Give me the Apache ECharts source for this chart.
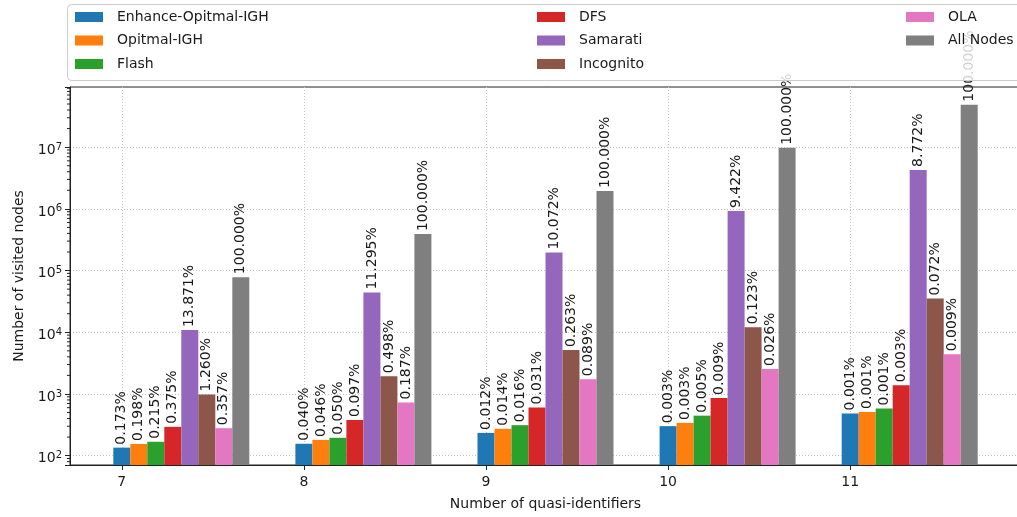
<!DOCTYPE html>
<html>
<head>
<meta charset="utf-8">
<script src="https://cdn.jsdelivr.net/npm/echarts@6/dist/echarts.min.js"></script>
<style>
  html, body { margin: 0; padding: 0; background: #fff; }
  #chart { width: 1017px; height: 517px; }
</style>
</head>
<body>
<div id="chart"></div>
<script>
// Number of quasi-identifiers on the x axis
const quasiIdentifiers = [7, 8, 9, 10, 11];

// Visited nodes per algorithm
const enhanceOptimalIGH = [135, 156, 234, 301, 483];
const optimalIGH        = [155, 180, 273, 340, 512];
const flash             = [168, 195, 312, 445, 580];
const dfs               = [293, 379, 605, 860, 1390];
const samarati          = [10837, 44121, 196718, 920125, 4283214];
const incognito         = [984, 1945, 5137, 12012, 35156];
const ola               = [279, 730, 1738, 2539, 4394];
const allNodes          = [78125, 390625, 1953125, 9765625, 48828125];

const seriesNames = ['Enhance-Opitmal-IGH', 'Opitmal-IGH', 'Flash', 'DFS',
                     'Samarati', 'Incognito', 'OLA', 'All Nodes'];
const seriesValues = [enhanceOptimalIGH, optimalIGH, flash, dfs,
                      samarati, incognito, ola, allNodes];
const colors = ['#1f77b4', '#ff7f0e', '#2ca02c', '#d62728',
                '#9467bd', '#8c564b', '#e377c2', '#7f7f7f'];

// Layout
const FONT = 'DejaVu Sans';
const TEXT = '#1a1a1a';
const GRID_LINE = { type: [1, 2], color: '#c4c4c4', width: 1 };
const X_MIN = 6.7155, X_MAX = 11.938;
const Y_MIN = 70.6, Y_MAX = 9.44e7;
const PLOT_LEFT = 70, PLOT_RIGHT = -4;
const BAR_PX = 17;
const UNIT_PX = (1017 - PLOT_LEFT - PLOT_RIGHT) / (X_MAX - X_MIN);
// each group starts at its tick, so the bar axis is shifted by half a group
const GROUP_SHIFT = (seriesNames.length / 2 - 0.5) * BAR_PX / UNIT_PX;

// minor ticks of the log axis (2..9 per decade)
const minorTicks = [];
for (let e = 1; e <= 7; e++) {
  for (let m = 2; m <= 9; m++) {
    const v = m * Math.pow(10, e);
    if (v > Y_MIN && v < Y_MAX) minorTicks.push([quasiIdentifiers[0], v]);
  }
}

const barSeries = seriesNames.map((name, i) => ({
  name: name,
  type: 'bar',
  xAxisIndex: 1,
  barWidth: BAR_PX,
  barGap: '0%',
  itemStyle: { color: colors[i] },
  data: quasiIdentifiers.map((q, j) => [q, seriesValues[i][j]]),
  label: {
    show: true,
    position: 'top',
    distance: 3,
    rotate: 90,
    align: 'left',
    verticalAlign: 'middle',
    fontFamily: FONT,
    fontSize: 14,
    color: TEXT,
    formatter: p => (p.value[1] / allNodes[p.dataIndex] * 100).toFixed(3) + '%'
  },
  z: 2
}));

const legendCommon = {
  orient: 'vertical',
  top: 10,
  padding: 0,
  itemWidth: 28,
  itemHeight: 10,
  itemGap: 9.5,
  icon: 'rect',
  selectedMode: false,
  z: 60,
  textStyle: { fontFamily: FONT, fontSize: 14, color: TEXT, lineHeight: 14, padding: [0, 0, 0, 9] }
};

const option = {
  animation: false,
  backgroundColor: '#fff',
  textStyle: { fontFamily: FONT },
  color: colors,
  grid: {
    left: PLOT_LEFT, right: PLOT_RIGHT, top: 87, bottom: 52,
    show: true, borderColor: '#222', borderWidth: 1,
    containLabel: false, outerBoundsMode: 'none'
  },
  legend: [
    Object.assign({}, legendCommon, { left: 75, data: seriesNames.slice(0, 3) }),
    Object.assign({}, legendCommon, { left: 537, data: seriesNames.slice(3, 6) }),
    Object.assign({}, legendCommon, { left: 906, data: seriesNames.slice(6, 8) })
  ],
  graphic: [{
    type: 'rect',
    z: 50,
    silent: true,
    shape: { x: 67.5, y: 4.5, width: 1000, height: 76, r: 4 },
    style: { fill: 'rgba(255,255,255,0.8)', stroke: '#cccccc', lineWidth: 1 }
  }],
  xAxis: [{
    type: 'value',
    min: X_MIN, max: X_MAX,
    minInterval: 1, maxInterval: 1,
    name: 'Number of quasi-identifiers',
    nameLocation: 'middle',
    nameGap: 32,
    nameTextStyle: { fontFamily: FONT, fontSize: 14, color: TEXT, lineHeight: 14 },
    axisLine: { lineStyle: { color: '#222', width: 1 } },
    axisTick: { length: 5, lineStyle: { color: '#222' } },
    axisLabel: {
      fontFamily: FONT, fontSize: 14, color: TEXT, margin: 10,
      showMinLabel: false, showMaxLabel: false,
      formatter: v => (Math.abs(v - Math.round(v)) < 1e-9 ? String(Math.round(v)) : '')
    },
    splitLine: { show: true, showMinLine: false, showMaxLine: false, lineStyle: GRID_LINE }
  }, {
    type: 'value',
    min: X_MIN - GROUP_SHIFT, max: X_MAX - GROUP_SHIFT,
    show: false,
    splitLine: { show: false }
  }],
  yAxis: {
    type: 'log',
    logBase: 10,
    min: Y_MIN, max: Y_MAX,
    name: 'Number of visited nodes',
    nameLocation: 'middle',
    nameGap: 44,
    nameTextStyle: { fontFamily: FONT, fontSize: 14, color: TEXT, lineHeight: 14 },
    axisLine: { show: true, lineStyle: { color: '#222', width: 1 } },
    axisTick: { show: true, length: 5, lineStyle: { color: '#222' } },
    axisLabel: {
      margin: 8,
      color: TEXT,
      fontFamily: FONT,
      formatter: v => {
        const e = Math.round(Math.log10(v));
        return Math.abs(Math.log10(v) - e) < 1e-6 ? '{b|10}{s|' + e + '}' : '';
      },
      rich: {
        b: { fontFamily: FONT, fontSize: 14, lineHeight: 14, verticalAlign: 'bottom', color: TEXT },
        s: { fontFamily: FONT, fontSize: 10, lineHeight: 20, verticalAlign: 'middle', color: TEXT }
      }
    },
    splitLine: { show: true, showMinLine: false, showMaxLine: false, lineStyle: GRID_LINE }
  },
  series: barSeries.concat([{
    type: 'custom',
    xAxisIndex: 0,
    silent: true,
    clip: false,
    data: minorTicks,
    renderItem: (params, api) => {
      const y = api.coord([api.value(0), api.value(1)])[1];
      const x = params.coordSys.x;
      return {
        type: 'line',
        shape: { x1: x - 3, y1: y, x2: x, y2: y },
        style: { stroke: '#222', lineWidth: 1 }
      };
    }
  }])
};

const chart = echarts.init(document.getElementById('chart'), null, { renderer: 'canvas' });
chart.setOption(option);
</script>
</body>
</html>
